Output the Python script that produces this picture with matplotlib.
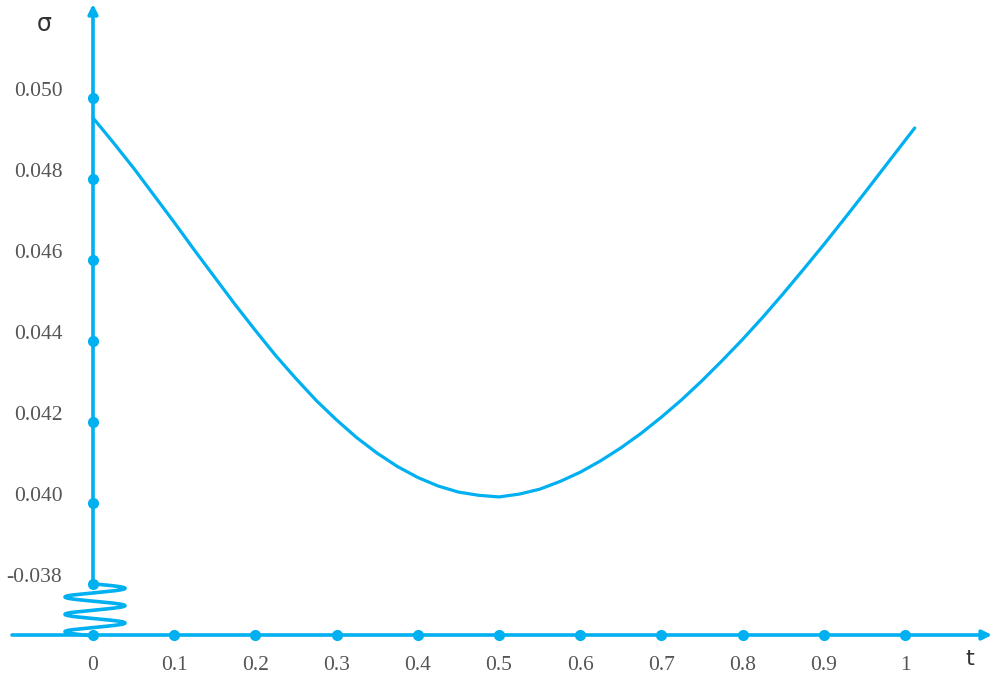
import numpy as np
import matplotlib
matplotlib.use("Agg")
import matplotlib.pyplot as plt

# ---- data ----
t_vals = [0.0, 0.025, 0.05, 0.075, 0.1, 0.125, 0.15, 0.175, 0.2, 0.225,
          0.25, 0.275, 0.3, 0.325, 0.35, 0.375, 0.4, 0.425, 0.45, 0.475,
          0.5, 0.525, 0.55, 0.575, 0.6, 0.625, 0.65, 0.675, 0.7, 0.725,
          0.75, 0.775, 0.8, 0.825, 0.85, 0.875, 0.9, 0.925, 0.95, 0.975,
          1.0, 1.012]
sigma_vals = [0.04951, 0.04890, 0.04827, 0.04760, 0.04693, 0.04624, 0.04557,
              0.04490, 0.04426, 0.04364, 0.04307, 0.04253, 0.04205, 0.04161,
              0.04123, 0.04090, 0.04063, 0.04042, 0.04027, 0.04019, 0.04015,
              0.04022, 0.04034, 0.04053, 0.04076, 0.04104, 0.04136, 0.04172,
              0.04212, 0.04255, 0.04302, 0.04352, 0.04404, 0.04459, 0.04517,
              0.04577, 0.04638, 0.04701, 0.04765, 0.04830, 0.04895, 0.04926]
x_ticks = [0, 0.1, 0.2, 0.3, 0.4, 0.5, 0.6, 0.7, 0.8, 0.9, 1]
x_tick_labels = ["0", "0.1", "0.2", "0.3", "0.4", "0.5", "0.6", "0.7", "0.8", "0.9", "1"]
y_ticks = [0.038, 0.040, 0.042, 0.044, 0.046, 0.048, 0.050]
y_tick_labels = ["-0.038", "0.040", "0.042", "0.044", "0.046", "0.048", "0.050"]
x_label = "t"
y_label = "σ"

BLUE = "#00B0F0"
GRAY = "#555555"
DARK = "#333333"

fig = plt.figure(figsize=(10, 6.82), dpi=100)
ax = fig.add_axes([0, 0, 1, 1])
ax.set_axis_off()

# pixel -> data helpers for layout (x: 0 at 93px, 812 px/unit; y: 0.040 at 503px, 40500 px/unit)
def px_x(px):
    return (np.asarray(px) - 93) / 812.0

def px_y(py):
    return 0.040 + (503 - np.asarray(py)) / 40500.0

ax.set_xlim(px_x(0), px_x(1000))
ax.set_ylim(px_y(682), px_y(0))

y_base = float(px_y(635))  # level of the horizontal axis

# horizontal axis with arrow
ax.annotate("", xy=(float(px_x(992)), y_base), xytext=(float(px_x(12)), y_base),
            arrowprops=dict(arrowstyle="-|>", color=BLUE, lw=2.6,
                            mutation_scale=14, shrinkA=0, shrinkB=0), zorder=2)
# vertical axis with arrow (from 0.038 up)
ax.annotate("", xy=(0, float(px_y(4))), xytext=(0, y_ticks[0]),
            arrowprops=dict(arrowstyle="-|>", color=BLUE, lw=2.6,
                            mutation_scale=14, shrinkA=0, shrinkB=0), zorder=2)

# break squiggle between 0.038 and the horizontal axis
s = np.linspace(0, 1, 400)
sq_px = 95 + 30 * np.sin(2 * np.pi * 3 * s)
sq_py = 584 + 52 * s
ax.plot(px_x(sq_px), px_y(sq_py), color=BLUE, lw=2.6, solid_capstyle="round", zorder=2)

# dots on axes
ax.plot(x_ticks, [y_base] * len(x_ticks), "o", color=BLUE, ms=7, zorder=3)
ax.plot([0] * len(y_ticks), y_ticks, "o", color=BLUE, ms=7, zorder=3)

# curve
ax.plot(t_vals, sigma_vals, color=BLUE, lw=2.3, solid_capstyle="round",
        solid_joinstyle="round", zorder=4)

# tick labels
serif = ["Liberation Serif", "DejaVu Serif"]
for xv, lab in zip(x_ticks, x_tick_labels):
    ax.text(xv, float(px_y(666)), lab, ha="center", va="center", fontsize=15.5,
            family=serif, color=GRAY)
for yv, lab in zip(y_ticks, y_tick_labels):
    ax.annotate(lab, xy=(0, yv), xytext=(-22, 5), textcoords="offset points",
                ha="right", va="center", fontsize=15.5, family=serif, color=GRAY)

# axis names
ax.text(float(px_x(970)), float(px_y(659)), x_label, ha="center", va="center",
        fontsize=16, family=["DejaVu Sans"], color=DARK)
ax.text(float(px_x(44)), float(px_y(24)), y_label, ha="center", va="center",
        fontsize=17, family=["DejaVu Sans"], color=DARK)

fig.savefig("out.png", dpi=100)
